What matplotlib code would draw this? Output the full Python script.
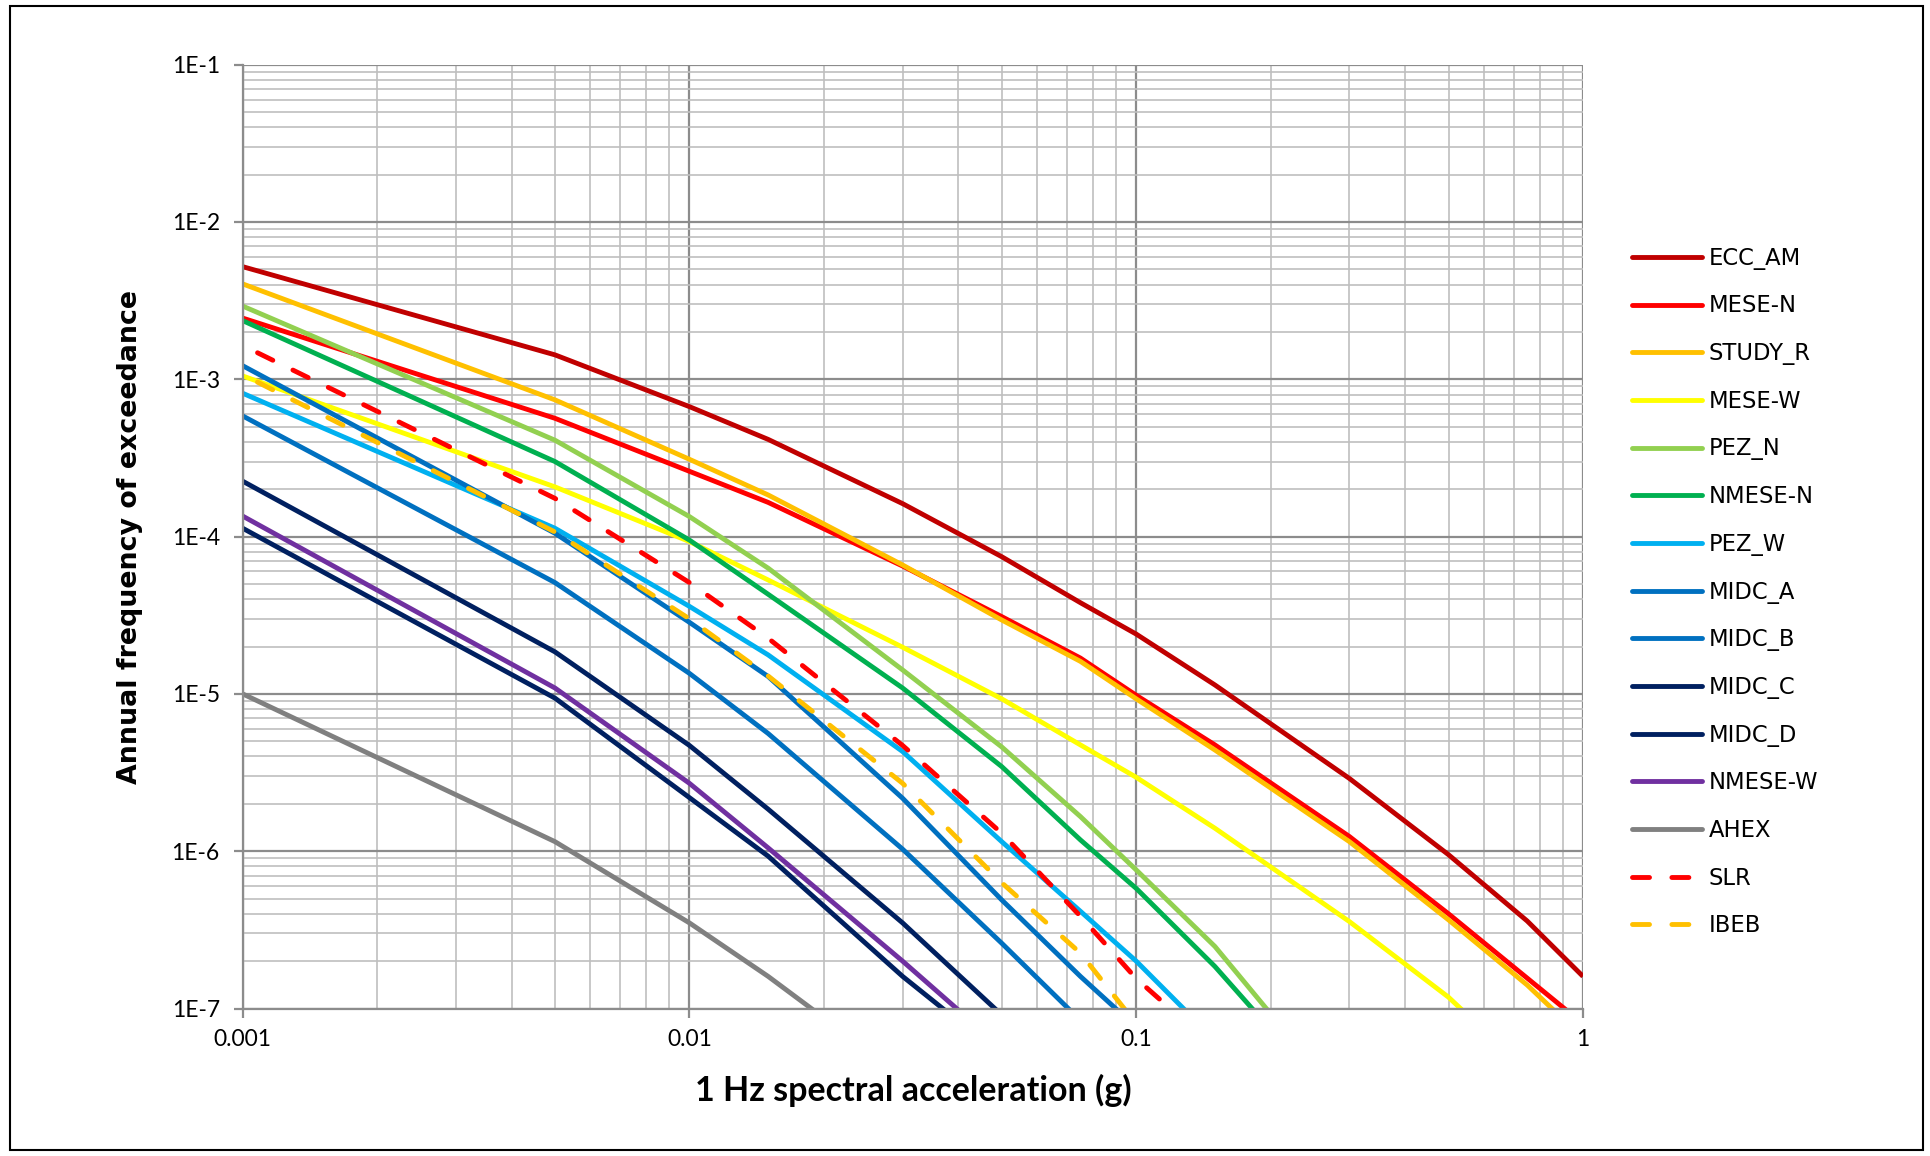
import numpy as np
import matplotlib
matplotlib.use("Agg")
import matplotlib.pyplot as plt
from matplotlib.lines import Line2D
from matplotlib.patches import Rectangle
from matplotlib.ticker import FixedLocator, FuncFormatter, LogLocator, NullFormatter

nan = np.nan

# spectral acceleration (g)
accel = [0.001, 0.005, 0.01, 0.015, 0.03, 0.05, 0.075, 0.1, 0.15, 0.3, 0.5, 0.75, 1.0]

# annual frequency of exceedance per source zone
ecc_am = [5.2e-3, 1.43e-3, 6.7e-4, 4.15e-4, 1.62e-4, 7.45e-5, 3.8e-5, 2.4e-5, 1.14e-5, 2.9e-6, 9.5e-7, 3.6e-7, 1.6e-7]
mese_n = [2.45e-3, 5.65e-4, 2.6e-4, 1.65e-4, 6.5e-5, 3.1e-5, 1.69e-5, 9.8e-6, 4.74e-6, 1.24e-6, 4.0e-7, 1.56e-7, 8e-8]
study_r = [4.04e-3, 7.4e-4, 3.1e-4, 1.84e-4, 6.6e-5, 2.95e-5, 1.61e-5, 9.3e-6, 4.4e-6, 1.15e-6, 3.66e-7, 1.41e-7, 6.5e-8]
mese_w = [1.05e-3, 2.07e-4, 9.3e-5, 5.3e-5, 1.98e-5, 9.3e-6, 4.74e-6, 2.95e-6, 1.4e-6, 3.57e-7, 1.18e-7, 4e-8, nan]
pez_n = [2.92e-3, 4.1e-4, 1.34e-4, 6.3e-5, 1.42e-5, 4.6e-6, 1.66e-6, 7.6e-7, 2.48e-7, 2.3e-8, nan, nan, nan]
nmese_n = [2.36e-3, 3.0e-4, 9.5e-5, 4.3e-5, 1.09e-5, 3.45e-6, 1.18e-6, 5.8e-7, 1.85e-7, 2e-8, nan, nan, nan]
pez_w = [8.15e-4, 1.13e-4, 3.6e-5, 1.77e-5, 4.3e-6, 1.15e-6, 4.15e-7, 2.0e-7, 6.3e-8, nan, nan, nan, nan]
midc_a = [1.22e-3, 1.05e-4, 2.85e-5, 1.29e-5, 2.17e-6, 4.9e-7, 1.6e-7, 7.6e-8, nan, nan, nan, nan, nan]
midc_b = [5.85e-4, 5.1e-5, 1.35e-5, 5.6e-6, 1.03e-6, 2.6e-7, 8.4e-8, nan, nan, nan, nan, nan, nan]
midc_c = [2.25e-4, 1.85e-5, 4.7e-6, 1.85e-6, 3.5e-7, 9.1e-8, nan, nan, nan, nan, nan, nan, nan]
midc_d = [1.13e-4, 9.4e-6, 2.19e-6, 9.3e-7, 1.6e-7, 5e-8, nan, nan, nan, nan, nan, nan, nan]
nmese_w = [1.35e-4, 1.09e-5, 2.7e-6, 1.05e-6, 2.0e-7, 5.6e-8, nan, nan, nan, nan, nan, nan, nan]
ahex = [1.0e-5, 1.15e-6, 3.5e-7, 1.6e-7, 3.7e-8, nan, nan, nan, nan, nan, nan, nan, nan]
slr = [1.64e-3, 1.75e-4, 5.1e-5, 2.26e-5, 4.7e-6, 1.3e-6, 3.86e-7, 1.55e-7, 5.6e-8, nan, nan, nan, nan]
ibeb = [1.07e-3, 1.07e-4, 3.0e-5, 1.3e-5, 2.7e-6, 6.3e-7, 2.25e-7, 8e-8, nan, nan, nan, nan, nan]

series = [
    ("ECC_AM", ecc_am, "#C00000", False),
    ("MESE-N", mese_n, "#FF0000", False),
    ("STUDY_R", study_r, "#FFC000", False),
    ("MESE-W", mese_w, "#FFFF00", False),
    ("PEZ_N", pez_n, "#92D050", False),
    ("NMESE-N", nmese_n, "#00B050", False),
    ("PEZ_W", pez_w, "#00B0F0", False),
    ("MIDC_A", midc_a, "#0070C0", False),
    ("MIDC_B", midc_b, "#0070C0", False),
    ("MIDC_C", midc_c, "#002060", False),
    ("MIDC_D", midc_d, "#002060", False),
    ("NMESE-W", nmese_w, "#7030A0", False),
    ("AHEX", ahex, "#808080", False),
    ("SLR", slr, "#FF0000", True),
    ("IBEB", ibeb, "#FFC000", True),
]

W, H = 1931, 1156
fig = plt.figure(figsize=(W / 100, H / 100), dpi=100)
ax = fig.add_axes([242.7 / W, 1 - 1008.5 / H, (1583 - 242.7) / W, (1008.5 - 64.7) / H])

lw = 3.5
handles = []
for name, vals, color, dashed in series:
    if dashed:
        # the dashes start with a gap at the first point, like the original
        ax.plot(accel, vals, color=color, lw=lw, linestyle=(4.7, (3.5, 4.6)),
                dash_capstyle="round")
        handles.append(Line2D([], [], color=color, lw=lw, linestyle=(0, (3.5, 4.6)),
                              dash_capstyle="round", label=name))
    else:
        ax.plot(accel, vals, color=color, lw=lw, solid_capstyle="butt")
        handles.append(Line2D([], [], color=color, lw=lw, solid_capstyle="round", label=name))

ax.set_xscale("log")
ax.set_yscale("log")
ax.set_xlim(1e-3, 1)
ax.set_ylim(1e-7, 1e-1)

ax.xaxis.set_major_locator(FixedLocator([1e-3, 1e-2, 1e-1, 1]))
ax.xaxis.set_major_formatter(FuncFormatter(lambda v, p: {1e-3: "0.001", 1e-2: "0.01", 1e-1: "0.1", 1: "1"}.get(round(v, 6), "")))
ax.xaxis.set_minor_locator(LogLocator(base=10, subs=np.arange(2, 10), numticks=20))
ax.xaxis.set_minor_formatter(NullFormatter())
ax.yaxis.set_major_locator(FixedLocator([10.0 ** k for k in range(-7, 0)]))
ax.yaxis.set_major_formatter(FuncFormatter(lambda v, p: "1E%d" % round(np.log10(v))))
ax.yaxis.set_minor_locator(LogLocator(base=10, subs=np.arange(2, 10), numticks=20))
ax.yaxis.set_minor_formatter(NullFormatter())

major_c = "#8C8C8C"
minor_c = "#BFBFBF"
ax.grid(True, which="major", color=major_c, lw=1.6)
ax.grid(True, which="minor", color=minor_c, lw=1.2)
ax.set_axisbelow(True)
for side in ["top", "right"]:
    ax.spines[side].set_visible(False)
for side in ["left", "bottom"]:
    ax.spines[side].set_color(major_c)
    ax.spines[side].set_linewidth(1.6)

ax.tick_params(which="major", length=6.5, width=1.6, color=major_c, direction="out")
ax.tick_params(which="minor", length=0)
ax.tick_params(axis="y", pad=10)
ax.tick_params(axis="x", pad=8)
for lab in ax.get_xticklabels() + ax.get_yticklabels():
    lab.set_fontfamily(["Lato", "DejaVu Sans"])
    lab.set_fontsize(16.5)

fig.text(0.5 * (242.7 + 1583) / W, 1 - 1090 / H, "1 Hz spectral acceleration (g)",
         ha="center", va="center", fontsize=24.5, fontweight="bold", family=["Lato", "DejaVu Sans"])
fig.text(130.5 / W, 1 - 537 / H, "Annual frequency of exceedance", rotation=90,
         ha="center", va="center", fontsize=19.4, fontweight="bold", family="DejaVu Sans")

leg = fig.legend(handles=handles, loc="center left", bbox_to_anchor=(1632 / W, 1 - 592 / H),
                 frameon=False, borderpad=0, borderaxespad=0, handlelength=3.1,
                 handletextpad=0.3, labelspacing=1.09, prop={"family": "DejaVu Sans", "size": 16.3})

fig.patches.append(Rectangle((10 / W, 1 - 1150 / H), (1923 - 10) / W, (1150 - 6) / H,
                             transform=fig.transFigure, fill=False, edgecolor="black", lw=1.5))

fig.savefig("out.png", dpi=100)
